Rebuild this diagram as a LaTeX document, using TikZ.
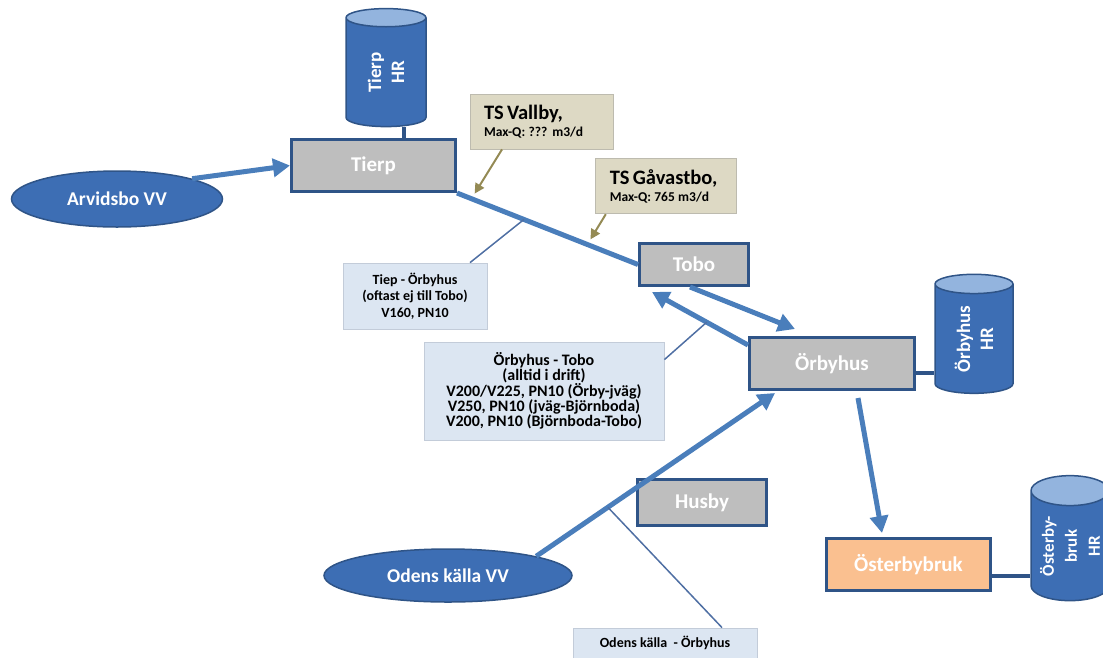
\documentclass[tikz,border=0pt]{standalone}
\usepackage{fontspec}
\setmainfont{Carlito}
\usepackage{tikz}
\usetikzlibrary{shapes.geometric,arrows.meta,positioning,calc,backgrounds}

\definecolor{pipeblue}{HTML}{4A7EBB}
\definecolor{edgeblue}{HTML}{2F5487}
\definecolor{boxgray}{HTML}{BEBEBE}
\definecolor{srcblue}{HTML}{3D6EB4}
\definecolor{capblue}{HTML}{93B4DE}
\definecolor{notefill}{HTML}{DCE6F2}
\definecolor{noteedge}{HTML}{C3CCD9}
\definecolor{tsfill}{HTML}{DDD9C4}
\definecolor{tsedge}{HTML}{BDBBAF}
\definecolor{tsolive}{HTML}{948A54}
\definecolor{tieblue}{HTML}{4F6FA3}
\definecolor{brukfill}{HTML}{FAC090}

\begin{document}
\begin{tikzpicture}[
    x=1pt, y=-1pt,
    station/.style={rectangle, draw=edgeblue, line width=3pt, fill=boxgray, inner sep=0pt, text=white, font=\fontsize{21}{25}\selectfont\bfseries},
    source/.style={ellipse, draw=edgeblue, line width=1.5pt, fill=srcblue, inner sep=0pt, text=white, font=\fontsize{19.5}{23}\selectfont\bfseries},
    tank/.style={cylinder, rotate=90, aspect=0.5, draw=edgeblue, line width=1.5pt, cylinder uses custom fill, cylinder body fill=srcblue, cylinder end fill=capblue, inner sep=0pt, text=white, align=center, font=\fontsize{19}{23}\selectfont\bfseries},
    tsbox/.style={rectangle, draw=tsedge, line width=0.8pt, fill=tsfill, inner xsep=14pt, align=left, font=\bfseries},
    note/.style={rectangle, draw=noteedge, line width=0.8pt, fill=notefill, inner sep=0pt, align=center, font=\bfseries},
    pipe/.style={draw=pipeblue, line width=5pt},
    flow/.style={pipe, -{Triangle[length=17pt,width=18pt]}},
    tie/.style={draw=tieblue, line width=1.5pt},
    tsline/.style={draw=tsolive, line width=2pt, shorten >=6pt, -{Triangle[length=10pt,width=10pt]}},
    link/.style={draw=edgeblue, line width=4pt}
]
    \useasboundingbox (0,0) rectangle (1103,657);

    % stations and sources
    \node[station, minimum width=164pt, minimum height=52pt] (tierp) at (373.5,165.5) {Tierp};
    \node[station, minimum width=109pt, minimum height=42pt] (tobo) at (694,264.5) {Tobo};
    \node[station, minimum width=165pt, minimum height=52pt] (orbyhus) at (832,363.5) {Örbyhus};
    \node[station, minimum width=129pt, minimum height=46pt] (husby) at (702,502.5) {Husby};
    \node[station, fill=brukfill, minimum width=164pt, minimum height=52pt] (osterby) at (908.5,564.5) {Österbybruk};
    \node[source, minimum width=211pt, minimum height=56pt] (arvidsbo) at (117,199) {Arvidsbo VV};
    \node[source, minimum width=248pt, minimum height=53pt] (odens) at (448,575.5) {Odens källa VV};

    % reservoirs
    \node[tank, minimum width=80pt, minimum height=118pt] (tierphr) at (386,72.5) {Tierp\\HR};
    \node[tank, minimum width=78pt, minimum height=119pt] (orbyhushr) at (974,339) {Örbyhus\\HR};
    \node[tank, minimum width=78pt, minimum height=125pt, font=\fontsize{17}{23}\selectfont\bfseries] (osterbyhr) at (1070,546) {Österby-\\bruk\\HR};

    % pumping stations
    \node[tsbox, text width=115pt, minimum height=55pt] (vallby) at (541.5,121.5)
        {{\fontsize{20.5}{22}\selectfont TS Vallby,}\\[4pt]{\fontsize{13.5}{16}\selectfont Max-Q: ??? m3/d}};
    \node[tsbox, text width=113pt, minimum height=55pt, below right=9pt and -18pt of vallby] (gavastbo)
        {{\fontsize{20.5}{22}\selectfont TS Gåvastbo,}\\[4pt]{\fontsize{13.5}{16}\selectfont Max-Q: 765 m3/d}};

    % pipe notes
    \node[note, minimum width=144pt, minimum height=66pt, font=\fontsize{14}{16.7}\selectfont\bfseries] (tiep) at (415,296)
        {Tiep - Örbyhus\\(oftast ej till Tobo)\\V160, PN10};
    \node[note, minimum width=240pt, minimum height=98pt, font=\fontsize{16}{15}\selectfont\bfseries] (orbytobo) at (544,391)
        {Örbyhus - Tobo\\(alltid i drift)\\V200/V225, PN10 (Örby-jväg)\\V250, PN10 (jväg-Björnboda)\\V200, PN10 (Björnboda-Tobo)};
    \node[note, minimum width=184pt, minimum height=30pt, font=\fontsize{14}{17}\selectfont\bfseries] (okbox) at (665,643)
        {Odens källa~ - Örbyhus};

    \begin{scope}[on background layer]
        \draw[link] ([xshift=30.5pt]tierp.north) -- ([xshift=30.5pt]tierp.north |- tierphr.bottom);
        \draw[link] ([yshift=-9.5pt]orbyhus.east) -- ([yshift=-9.5pt]orbyhus.east -| orbyhushr.north);
        \draw[link] ([yshift=-11.5pt]osterby.east) -- ([yshift=-11.5pt]osterby.east -| osterbyhr.north);
    \end{scope}

    % mains
    \draw[pipe] (tierp.south east) -- coordinate[pos=0.08] (vallbyhit) coordinate[pos=0.37] (tiepjoin) coordinate[pos=0.72] (gavahit) (tobo.west);
    \draw[flow] (arvidsbo.north east) -- (tierp.west);
    \draw[flow] ([xshift=-4pt]tobo.south) -- ([xshift=-37pt,yshift=7pt]orbyhus.north);
    \draw[flow] ([yshift=-9pt]orbyhus.north west) -- coordinate[pos=0.43] (otjoin) ([xshift=14pt,yshift=-5pt]tobo.south west);
    \draw[flow] (odens.north east) -- coordinate[pos=0.30] (okjoin) ([xshift=27pt,yshift=-2pt]orbyhus.south west);
    \draw[flow] ([xshift=26pt,yshift=-7pt]orbyhus.south) -- ([xshift=-26.5pt,yshift=4pt]osterby.north);

    \draw[tsline] ([xshift=-39.5pt]vallby.south) -- (vallbyhit);
    \draw[tsline] ([xshift=-60.5pt]gavastbo.south) -- (gavahit);

    \draw[tie] (tiepjoin) -- ([xshift=55pt]tiep.north);
    \draw[tie] (otjoin) -- ([yshift=-18pt]orbytobo.north east);
    \draw[tie] (okjoin) -- ([xshift=57pt]okbox.north);
\end{tikzpicture}
\end{document}
